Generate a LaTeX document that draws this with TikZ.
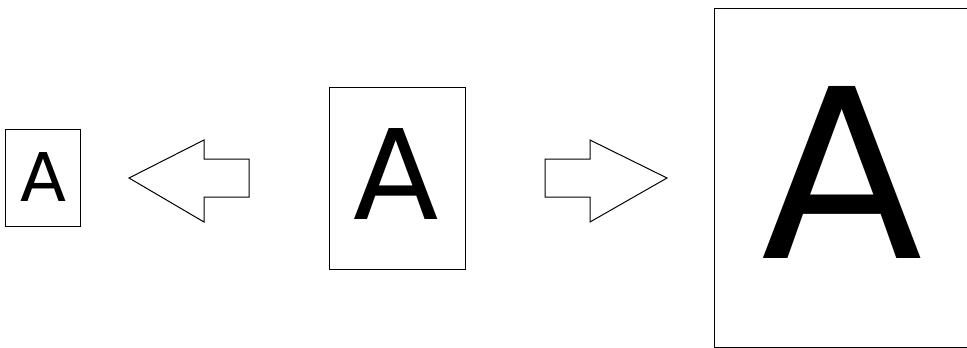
\documentclass[tikz,border=0pt]{standalone}
\usepackage{fontspec}
\setmainfont{DejaVu Sans}
\begin{document}
\begin{tikzpicture}[x=1pt,y=-1pt,
  page/.style={draw=black,line width=1pt,fill=white},
  bigarrow/.style={draw=black,line width=1pt,line join=miter},
  letter/.style={inner sep=0pt,outer sep=0pt,anchor=base}]
\useasboundingbox (0,0) rectangle (967,348);
\clip (0,0) rectangle (967,348);
% pages
\draw[page] (5,129) rectangle (80,226);
\draw[page] (329,87) rectangle (465,269);
\draw[page] (714,8) rectangle (1000,347);
% letters
\node[letter,font=\fontsize{67.2}{70}\selectfont] (a1) at (43,201) {A};
\node[letter,font=\fontsize{124.8}{130}\selectfont] (a2) at (396.5,219) {A};
\node[letter,font=\fontsize{236}{240}\selectfont] (a3) at (842,258) {A};
% arrows
\draw[bigarrow] (129,178) -- (204,140) -- (204,159) -- (249,159) -- (249,197) -- (204,197) -- (204,222) -- cycle;
\draw[bigarrow] (667,178) -- (590,140) -- (590,159) -- (545,159) -- (545,197) -- (590,197) -- (590,222) -- cycle;
\end{tikzpicture}
\end{document}
